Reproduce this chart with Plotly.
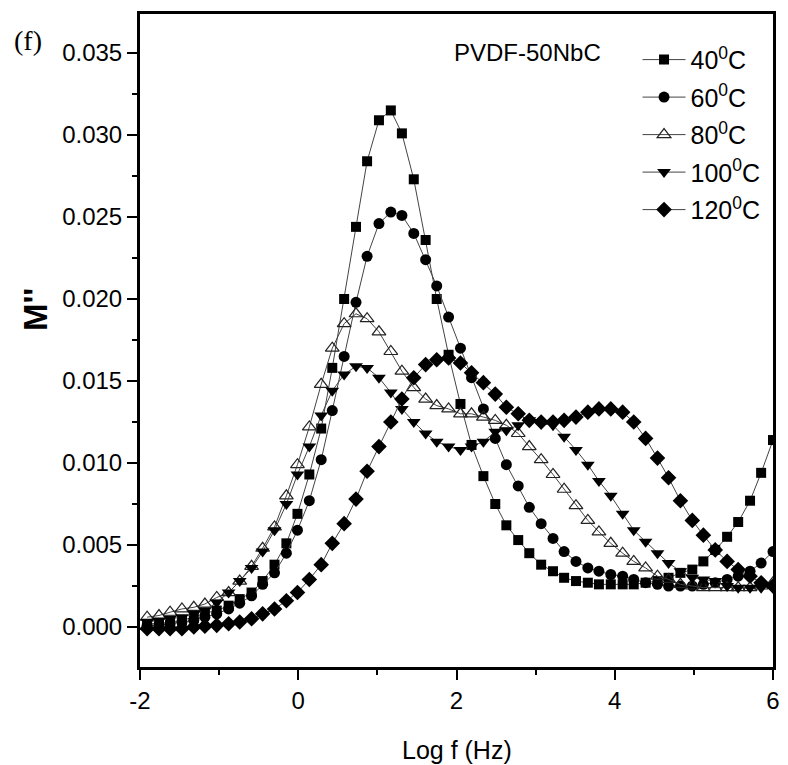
import plotly.graph_objects as go

# log frequency grid (shared by all temperatures)
log_f = [-1.91, -1.76, -1.62, -1.47, -1.32, -1.18, -1.03, -0.88, -0.74, -0.59,
         -0.45, -0.30, -0.15, -0.01, 0.14, 0.29, 0.43, 0.58, 0.73, 0.87,
         1.02, 1.17, 1.31, 1.46, 1.61, 1.75, 1.90, 2.05, 2.19, 2.34,
         2.49, 2.63, 2.78, 2.92, 3.07, 3.22, 3.36, 3.51, 3.66, 3.80,
         3.95, 4.10, 4.24, 4.39, 4.54, 4.68, 4.83, 4.98, 5.12, 5.27,
         5.42, 5.56, 5.71, 5.85, 6.00]

m_40 = [0.0002, 0.0002, 0.0003, 0.0004, 0.0006, 0.00085, 0.0010, 0.0013, 0.0017, 0.0021,
        0.0028, 0.0038, 0.0051, 0.0069, 0.0093, 0.0121, 0.0158, 0.0200, 0.0244, 0.0284,
        0.0309, 0.0315, 0.0301, 0.0273, 0.0236, 0.0200, 0.0166, 0.0136, 0.0111, 0.0092,
        0.0075, 0.0062, 0.0053, 0.0045, 0.0038, 0.0034, 0.0030, 0.0028, 0.0027, 0.0026,
        0.0026, 0.0026, 0.0026, 0.0027, 0.0028, 0.0030, 0.0033, 0.0035, 0.0040, 0.0047,
        0.0055, 0.0064, 0.0077, 0.0094, 0.0114]

m_60 = [0.0001, 0.0001, 0.0002, 0.0003, 0.0004, 0.0006, 0.0008, 0.0011, 0.00145, 0.0019,
        0.0026, 0.0033, 0.0045, 0.0059, 0.0077, 0.0102, 0.0132, 0.0165, 0.0198, 0.0226,
        0.0246, 0.0253, 0.0251, 0.0240, 0.0224, 0.0208, 0.0189, 0.0170, 0.0152, 0.0133,
        0.0115, 0.0099, 0.0086, 0.0073, 0.0063, 0.0054, 0.0046, 0.0040, 0.0036, 0.0034,
        0.0032, 0.0031, 0.0029, 0.0027, 0.0026, 0.0025, 0.0025, 0.0025, 0.0026, 0.0027,
        0.0029, 0.0031, 0.0034, 0.0039, 0.0046]

m_80 = [0.0006, 0.0007, 0.0009, 0.0011, 0.0012, 0.0014, 0.0018, 0.0021, 0.0028, 0.0037,
        0.0048, 0.0061, 0.0080, 0.0099, 0.0122, 0.0148, 0.0170, 0.0185, 0.0191, 0.0188,
        0.0180, 0.0168, 0.0156, 0.0146, 0.0139, 0.0135, 0.0133, 0.0130, 0.0130, 0.0128,
        0.0126, 0.0123, 0.0118, 0.0110, 0.0102, 0.0093, 0.0084, 0.0074, 0.0065, 0.0058,
        0.0051, 0.0045, 0.0040, 0.0036, 0.0031, 0.0029, 0.0026, 0.0025, 0.0024, 0.0024,
        0.0024, 0.0024, 0.0024, 0.0025, 0.0027]

m_100 = [0.0003, 0.0004, 0.0005, 0.0006, 0.0008, 0.0010, 0.0015, 0.0021, 0.0028, 0.0036,
         0.0046, 0.0059, 0.0075, 0.0093, 0.0110, 0.0129, 0.0144, 0.0154, 0.0159, 0.0158,
         0.0152, 0.0143, 0.0133, 0.0125, 0.0118, 0.0113, 0.0110, 0.0108, 0.0110, 0.0113,
         0.0119, 0.0120, 0.0123, 0.0126, 0.0124, 0.0123, 0.0116, 0.0108, 0.0099, 0.0089,
         0.0080, 0.0069, 0.0059, 0.0052, 0.0045, 0.0039, 0.0034, 0.0030, 0.0029, 0.0028,
         0.0025, 0.0024, 0.0024, 0.0024, 0.0024]

m_120 = [-0.0001, -0.0001, -0.0001, -0.0001, 0.0000, 0.00005, 0.0001, 0.0002, 0.0003, 0.0005,
         0.0008, 0.0011, 0.0016, 0.0021, 0.0029, 0.0038, 0.0051, 0.0063, 0.0078, 0.0095,
         0.0110, 0.0125, 0.0139, 0.0152, 0.0160, 0.0163, 0.0164, 0.0161, 0.0155, 0.0149,
         0.0142, 0.0134, 0.0130, 0.0126, 0.0125, 0.0125, 0.0126, 0.0128, 0.0131, 0.0133,
         0.0133, 0.0131, 0.0125, 0.0115, 0.0103, 0.0091, 0.0077, 0.0065, 0.0056, 0.0047,
         0.0040, 0.0035, 0.0031, 0.0027, 0.0025]

series_names = ["40<sup>0</sup>C", "60<sup>0</sup>C", "80<sup>0</sup>C", "100<sup>0</sup>C", "120<sup>0</sup>C"]
series_values = [m_40, m_60, m_80, m_100, m_120]

y_tick_vals = [0.000, 0.005, 0.010, 0.015, 0.020, 0.025, 0.030, 0.035]
x_tick_vals = [-2, 0, 2, 4, 6]

styles = [
    dict(symbol="square", size=10, color="black", line=dict(width=0)),
    dict(symbol="circle", size=11, color="black", line=dict(width=0)),
    dict(symbol="triangle-up-open", size=12, color="#222", line=dict(width=1.2, color="#222")),
    dict(symbol="triangle-down", size=12, color="black", line=dict(width=0)),
    dict(symbol="diamond", size=12, color="black", line=dict(width=0)),
]

SANS = "Liberation Sans Narrow, Liberation Sans, Arial, sans-serif"

fig = go.Figure()
for i, (name, vals) in enumerate(zip(series_names, series_values)):
    fig.add_trace(go.Scatter(
        x=log_f, y=vals, name=name, mode="lines+markers",
        line=dict(color="#444", width=1),
        marker=styles[i],
        legendgroup=f"g{i}",
    ))

axis_common = dict(
    showline=True, linecolor="black", linewidth=3, mirror=True,
    ticks="outside", ticklen=10, tickwidth=2, tickcolor="black",
    showgrid=False, zeroline=False,
    tickfont=dict(family=SANS, size=24, color="black"),
)

fig.update_xaxes(range=[-2, 6], tickvals=x_tick_vals, ticktext=[str(v) for v in x_tick_vals],
                 minor=dict(dtick=1, tick0=-2, ticks="outside", ticklen=5, tickwidth=2, tickcolor="black", showgrid=False),
                 **axis_common)
fig.update_yaxes(range=[-0.00244, 0.03738], tickvals=y_tick_vals, ticktext=[f"{v:.3f}" for v in y_tick_vals],
                 minor=dict(dtick=0.0025, tick0=0, ticks="outside", ticklen=5, tickwidth=2, tickcolor="black", showgrid=False),
                 **axis_common)

fig.update_layout(
    width=788, height=765,
    margin=dict(l=140, r=8, t=14, b=98),
    paper_bgcolor="white", plot_bgcolor="white",
    showlegend=True,
    legend=dict(x=0.786, y=0.965, xanchor="left", yanchor="top",
                font=dict(family=SANS, size=25, color="black"),
                bgcolor="rgba(0,0,0,0)", tracegroupgap=2, itemwidth=43),
    annotations=[
        dict(text="(f)", x=-0.177, y=0.960, xref="paper", yref="paper", showarrow=False,
             xanchor="center", yanchor="middle",
             font=dict(family="Liberation Serif, Times New Roman, serif", size=28, color="black")),
        dict(text="<b>M''</b>", x=-0.164, y=0.547, xref="paper", yref="paper", showarrow=False,
             textangle=-90, xanchor="center", yanchor="middle",
             font=dict(family="Liberation Sans, Arial, sans-serif", size=33, color="black")),
        dict(text="Log f (Hz)", x=0.5, y=-0.127, xref="paper", yref="paper", showarrow=False,
             xanchor="center", yanchor="middle",
             font=dict(family=SANS, size=25, color="black")),
        dict(text="PVDF-50NbC", x=0.6125, y=0.9418, xref="paper", yref="paper", showarrow=False,
             xanchor="center", yanchor="middle",
             font=dict(family=SANS, size=24, color="black")),
    ],
)

fig.write_html("out.html", config={"displayModeBar": False},
               post_script="document.body.style.margin='0px';document.body.style.overflow='hidden';")
